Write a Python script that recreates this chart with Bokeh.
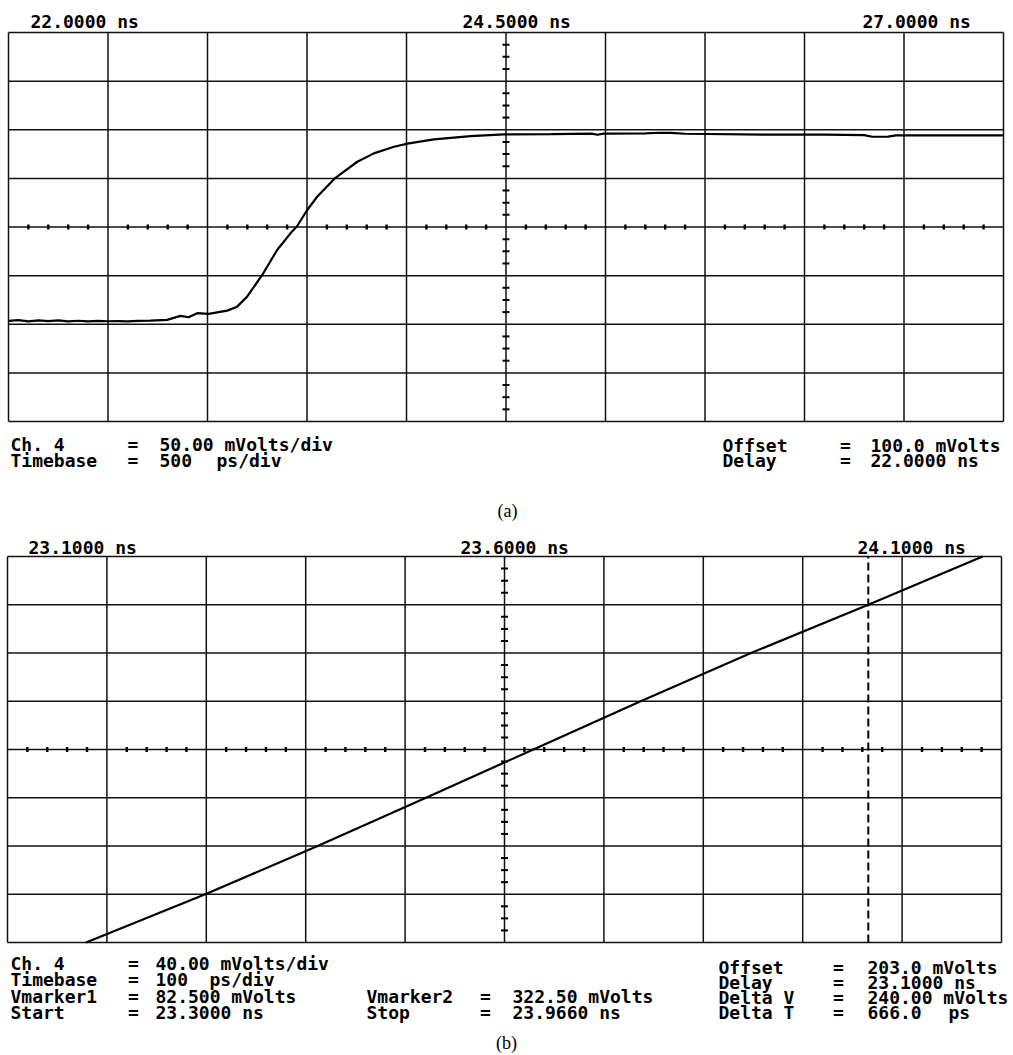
import numpy as np
from bokeh.plotting import figure
from bokeh.models import Range1d
from bokeh.layouts import column
from bokeh.embed import file_html
from bokeh.resources import INLINE
from bokeh.core.properties import value

# ---------------- Panel (a) data ----------------
a_t0 = 22.0          # ns, left edge (delay)
a_tdiv = 0.5         # ns per division
a_vcenter = 100.0    # mV, offset (centre line)
a_vdiv = 50.0        # mV per division
a_time_ns = [22.00, 22.05, 22.10, 22.15, 22.20, 22.25, 22.30, 22.35, 22.40, 22.45,
             22.50, 22.55, 22.60, 22.65,
             22.713, 22.797, 22.864, 22.905, 22.948, 23.006, 23.099, 23.149, 23.199,
             23.275, 23.350, 23.417, 23.451, 23.501, 23.551, 23.643, 23.753, 23.836,
             23.937, 24.012, 24.138, 24.322, 24.490, 24.725,
             24.93, 24.96, 24.99, 25.20, 25.27, 25.33, 25.40, 25.80, 26.10, 26.30,
             26.34, 26.42, 26.46, 26.70, 27.00]
a_mv = [3.5, 4.2, 3.0, 4.0, 3.2, 3.9, 3.0, 3.6, 2.9, 3.4, 3.1, 3.3, 3.0, 3.5,
        3.75, 4.5, 8.6, 7.2, 11.4, 10.6, 14.0, 18.1, 28.4, 50.7, 76.4, 93.5, 101.0,
        117.5, 131.1, 150.6, 167.1, 175.7, 182.5, 186.0, 190.1, 193.5, 195.2, 195.6,
        196.0, 194.9, 196.0, 196.2, 196.9, 196.7, 195.9, 194.9, 194.9, 194.5,
        192.8, 193.0, 194.3, 194.3, 194.3]
a_header = ["22.0000 ns", "24.5000 ns", "27.0000 ns"]
a_left_labels = ["Ch. 4", "Timebase"]
a_left_values = ["50.00 mVolts/div", "500"]
a_left_units = ["", "ps/div"]
a_right_labels = ["Offset", "Delay"]
a_right_values = ["100.0 mVolts", "22.0000 ns"]
a_caption = "(a)"

# ---------------- Panel (b) data ----------------
b_t0 = 23.1
b_tdiv = 0.1
b_vcenter = 203.0
b_vdiv = 40.0
b_time_ns = [23.179, 23.299, 23.412, 23.521, 23.629, 23.737, 23.848, 23.966, 24.081]
b_mv = [43.0, 83.0, 123.0, 163.0, 203.0, 243.0, 283.0, 323.0, 363.0]
b_stop_ns = 23.966
b_header = ["23.1000 ns", "23.6000 ns", "24.1000 ns"]
b_left_labels = ["Ch. 4", "Timebase", "Vmarker1", "Start"]
b_left_values = ["40.00 mVolts/div", "100", "82.500 mVolts", "23.3000 ns"]
b_left_units = ["", "ps/div", "", ""]
b_mid_labels = ["Vmarker2", "Stop"]
b_mid_values = ["322.50 mVolts", "23.9660 ns"]
b_right_labels = ["Offset", "Delay", "Delta V", "Delta T"]
b_right_values = ["203.0 mVolts", "23.1000 ns", "240.00 mVolts", "666.0"]
b_right_units = ["", "", "", "ps"]
b_caption = "(b)"

NX, NY = 10, 8
MONO = "DejaVu Sans Mono"
FS = "18px"
W = 1013


class Panel:
    """One scope screen: canvas rows [top, top+h), graticule box in page pixels."""

    def __init__(self, t0, tdiv, vc, vdiv, top, h, gl, gt, gr, gb):
        self.t0, self.tdiv, self.vc, self.vdiv = t0, tdiv, vc, vdiv
        self.x0, self.x1 = t0, t0 + NX * tdiv
        self.y0, self.y1 = vc - NY / 2 * vdiv, vc + NY / 2 * vdiv
        self.gl, self.gt = gl, gt
        self.sx = (gr - gl) / (self.x1 - self.x0)   # px per ns
        self.sy = (gb - gt) / (self.y1 - self.y0)   # px per mV
        xr = Range1d(self.px2t(0), self.px2t(W))
        yr = Range1d(self.py2v(top + h), self.py2v(top))
        p = figure(width=W, height=h, x_range=xr, y_range=yr,
                   x_axis_type=None, y_axis_type=None, toolbar_location=None,
                   output_backend="svg", title_location=None, frame_align=False,
                   min_border_left=0, min_border_right=0,
                   min_border_top=0, min_border_bottom=0)
        p.outline_line_color = None
        p.background_fill_color = "white"
        p.border_fill_color = "white"
        self.p = p

    def px2t(self, px):
        return self.t0 + (px - self.gl) / self.sx

    def py2v(self, py):
        return self.y1 - (py - self.gt) / self.sy

    def graticule(self):
        p = self.p
        xt = [self.x0 + i * self.tdiv for i in range(NX + 1)]
        yt = [self.y0 + j * self.vdiv for j in range(NY + 1)]
        p.segment(x0=xt, y0=[self.y0] * len(xt), x1=xt, y1=[self.y1] * len(xt),
                  line_color="#111111", line_width=1.5)
        p.segment(x0=[self.x0] * len(yt), y0=yt, x1=[self.x1] * len(yt), y1=yt,
                  line_color="#111111", line_width=1.5)
        tc = self.x0 + NX / 2 * self.tdiv
        mx = [self.x0 + k * self.tdiv / 5 for k in range(NX * 5 + 1) if k % 5]
        my = [self.y0 + k * self.vdiv / 4 for k in range(NY * 4 + 1) if k % 4]
        p.scatter(mx, [self.vc] * len(mx), marker="dash", angle=np.pi / 2, size=5,
                  line_color="black", line_width=2.4)
        p.scatter([tc] * len(my), my, marker="dash", size=7,
                  line_color="black", line_width=2.0)

    def put(self, pxs, pys, texts, align="left", baseline="alphabetic", font=MONO,
            size=FS, style="bold"):
        self.p.text(x=[self.px2t(v) for v in pxs], y=[self.py2v(v) for v in pys],
                    text=texts, text_align=align, text_baseline=baseline,
                    text_font=value(font), text_font_size=value(size),
                    text_font_style=style, text_color="black")

    def block(self, x_lab, x_eq, x_val, ys, labels, values):
        n = len(labels)
        self.put([x_lab] * n, ys, labels)
        self.put([x_eq] * n, ys, ["="] * n, align="center")
        self.put([x_val] * n, ys, values)


# ---- panel (a) ----
A = Panel(a_t0, a_tdiv, a_vcenter, a_vdiv, top=0, h=524, gl=8, gt=32, gr=1003, gb=421)
A.graticule()
A.p.line(a_time_ns, a_mv, line_color="black", line_width=2.2)
A.put([30, 462, 862], [20.7] * 3, a_header)
a_ly = [443.5, 459.5]
A.block(10, 132.5, 159, a_ly, a_left_labels, a_left_values)
A.put([216], [a_ly[1]], [a_left_units[1]])
A.block(722, 845, 870, [445, 460], a_right_labels, a_right_values)
A.put([507], [510], [a_caption], align="center", baseline="middle",
      font="Liberation Serif", style="normal")

# ---- panel (b) ----
B = Panel(b_t0, b_tdiv, b_vcenter, b_vdiv, top=524, h=530, gl=7, gt=556, gr=1001, gb=942)
B.graticule()
B.p.segment(x0=[b_stop_ns], y0=[B.y0], x1=[b_stop_ns], y1=[B.y1],
            line_color="black", line_width=2, line_dash="8 4")
B.p.line(b_time_ns, b_mv, line_color="black", line_width=2.2)
B.put([28, 460, 857], [546.5] * 3, b_header)
b_ly = [963, 979, 995.5, 1011.5]
b_ry = [967, 982, 996.5, 1011.5]
B.block(10, 133, 155, b_ly, b_left_labels, b_left_values)
B.put([209], [b_ly[1]], [b_left_units[1]])
B.block(366, 485, 512, b_ly[2:], b_mid_labels, b_mid_values)
B.block(718, 838, 867, b_ry, b_right_labels, b_right_values)
B.put([948], [b_ry[3]], [b_right_units[3]])
B.put([506], [1042], [b_caption], align="center", baseline="middle",
      font="Liberation Serif", style="normal")

layout = column(A.p, B.p, spacing=0)
open("out.html", "w").write(file_html(layout, INLINE))
